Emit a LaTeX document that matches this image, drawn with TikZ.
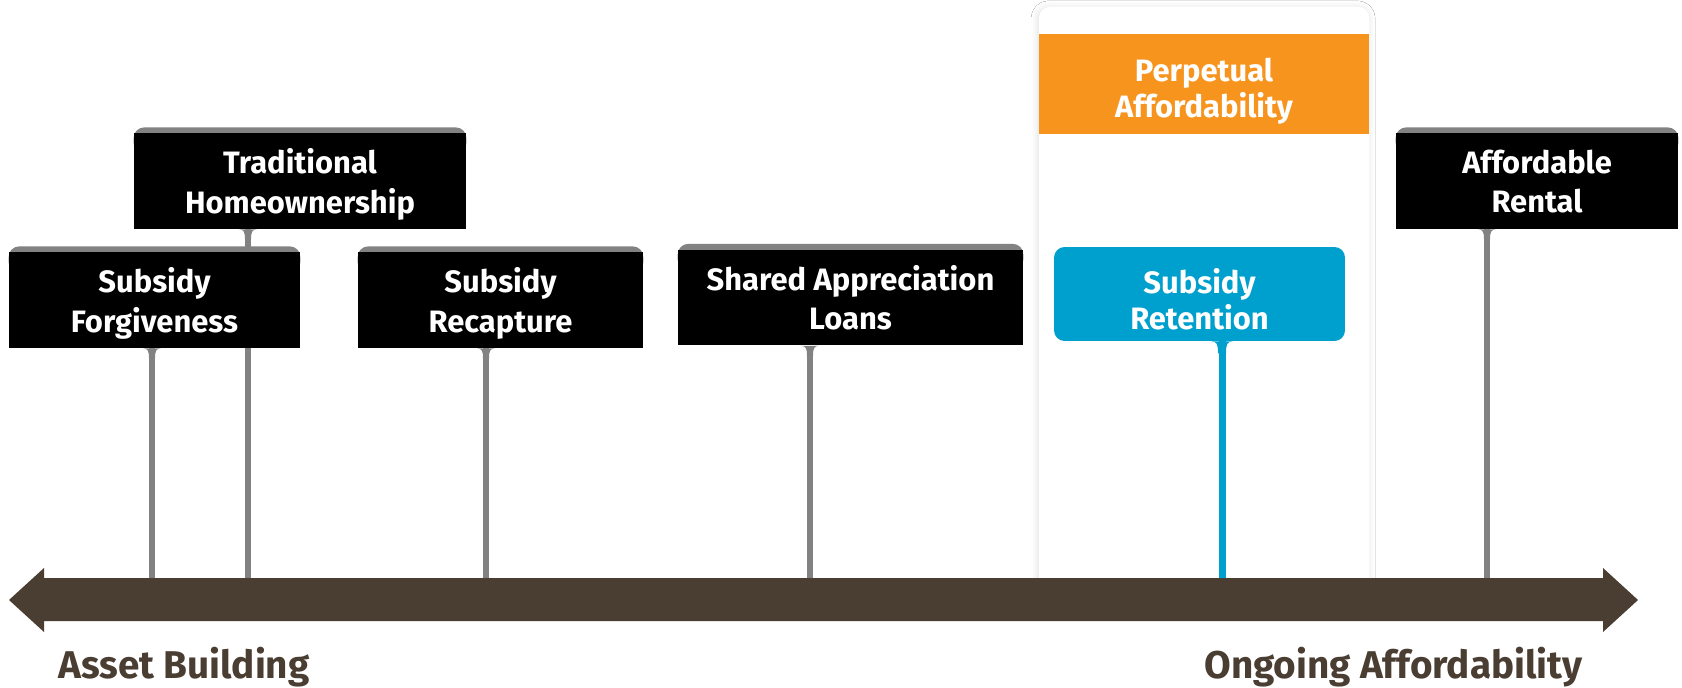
\documentclass[tikz,border=0pt]{standalone}
\usepackage{fontspec}
\setmainfont{Fira Sans}
\usepackage{tikz}
\usetikzlibrary{shadows.blur,backgrounds}
\definecolor{axisink}{RGB}{74,61,50}
\definecolor{poleink}{RGB}{130,130,130}
\definecolor{keepink}{RGB}{247,148,30}
\definecolor{retainink}{RGB}{0,160,206}

\begin{document}
\begin{tikzpicture}[x=0.02cm, y=-0.02cm,
  box/.style={fill=black, text=white, font=\bfseries\fontsize{17.6}{22.3}\selectfont,
    align=center, inner sep=0pt, text depth=0pt, minimum height=1.92cm},
  colourbox/.style={box, font=\bfseries\fontsize{17.6}{20.8}\selectfont},
  pole/.style={line width=3.4pt, poleink},
  endlabel/.style={text=axisink, font=\bfseries\fontsize{22}{27}\selectfont,
    anchor=base west, inner sep=0pt}]
  \useasboundingbox (0,0) rectangle (1682,688);
  \node[box, minimum width=5.82cm] (forgive) at (154.5,300) {Subsidy\\Forgiveness};
  \node[box, minimum width=6.64cm] (trad) at (300,181) {Traditional\\Homeownership};
  \node[box, minimum width=5.7cm] (recap) at (500.5,300) {Subsidy\\Recapture};
  \node[box, minimum width=6.9cm] (shared) at (850.5,297.5) {Shared Appreciation\\Loans};
  \node[box, minimum width=5.64cm] (rental) at (1537,181) {Affordable\\Rental};
  \node[colourbox, fill=keepink, text height=38.6pt, minimum width=6.6cm, minimum height=2cm] (perpetual) at (1204,84) {Perpetual\\Affordability};
  \node[colourbox, fill=retainink, text height=40.8pt, rounded corners=6pt, minimum width=5.82cm, minimum height=1.88cm] (retain) at (1199.5,294) {Subsidy\\Retention};
  \begin{scope}[on background layer]
    \fill[white] (0,0) rectangle (1682,688);
    \fill[white, rounded corners=6pt, blur shadow={shadow xshift=-0.5pt, shadow yshift=-0.5pt, shadow blur radius=4pt, shadow opacity=13}]
      (1039,7) rectangle (1369,600);
    \foreach \b/\x in {forgive/152, trad/248, recap/486, shared/810, rental/1487} {
      \coordinate (foot-\b) at (\x,578);
      \draw[pole] (foot-\b |- \b.south) -- (foot-\b);
      \fill[poleink, shift={(foot-\b |- \b.south)}] (-9,0) .. controls (-4,0) and (-3,3) .. (-3,10)
        -- (3,10) .. controls (3,3) and (4,0) .. (9,0) -- cycle;
    }
    \foreach \b in {forgive, trad, recap, shared, rental}
      \fill[poleink, rounded corners=6pt] ([yshift=3pt]\b.north west) rectangle ([yshift=-12pt]\b.north east);
    \coordinate (foot-retain) at (1222,578);
    \draw[pole, retainink, line width=4pt] (foot-retain |- retain.south) -- (foot-retain);
    \fill[retainink, shift={(foot-retain |- retain.south)}] (-11,0) .. controls (-5,0) and (-4,3) .. (-4,12)
      -- (4,12) .. controls (4,3) and (5,0) .. (11,0) -- cycle;
  \end{scope}
  \coordinate (lefttip) at (9,600);
  \coordinate (righttip) at (1638,600);
  \fill[axisink] (lefttip) -- (44,568) -- (44,578) -- (1603,578) -- (1603,568) -- (righttip)
    -- (1603,632) -- (1603,621) -- (44,621) -- (44,632) -- cycle;
  \node[endlabel] (asset) at (58,678) {Asset Building};
  \node[endlabel] (ongoing) at (1204,678) {Ongoing Affordability};
\end{tikzpicture}
\end{document}
